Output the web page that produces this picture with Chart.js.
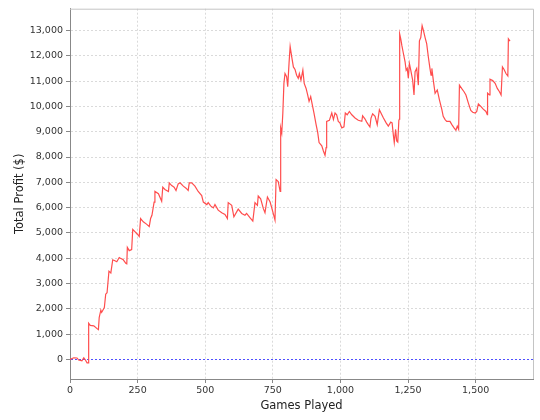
<!DOCTYPE html>
<html>
<head>
<meta charset="utf-8">
<script src="https://cdn.jsdelivr.net/npm/chart.js@4"></script>
<style>
  html, body { margin: 0; padding: 0; background: #fff; }
</style>
</head>
<body>
<canvas id="myChart" width="540" height="420"></canvas>
<script>
// games played (x) and running total profit in $ (y)
const games = [
  0, 14, 26, 32, 44, 51, 57, 63, 67, 69, 75, 88, 100, 105, 108, 114, 117, 127, 132, 137,
  144, 151, 158, 166, 173, 182, 185, 197, 207, 210, 212, 219, 228, 232, 240, 249, 256, 261, 271, 284,
  293, 298, 303, 311, 314, 327, 339, 343, 351, 364, 367, 376, 385, 392, 400, 407, 419, 429, 437, 441,
  450, 462, 474, 487, 493, 506, 511, 520, 530, 536, 548, 561, 573, 582, 585, 598, 606, 622, 635, 647,
  653, 666, 676, 684, 693, 696, 705, 715, 721, 730, 740, 750, 758, 762, 770, 777, 779, 783, 787, 791,
  795, 801, 805, 810, 814, 820, 826, 832, 838, 844, 848, 854, 861, 866, 873, 879, 884, 890, 896, 902,
  910, 916, 921, 931, 937, 943, 947, 949, 959, 968, 974, 980, 986, 992, 998, 1005, 1013, 1018, 1025, 1033,
  1042, 1054, 1066, 1079, 1082, 1091, 1097, 1103, 1109, 1113, 1119, 1128, 1136, 1144, 1153, 1159, 1169, 1177, 1186, 1191,
  1196, 1199, 1204, 1208, 1212, 1216, 1218, 1219, 1223, 1227, 1233, 1239, 1243, 1247, 1251, 1255, 1260, 1267, 1272, 1276,
  1282, 1288, 1292, 1297, 1302, 1307, 1313, 1319, 1325, 1331, 1335, 1338, 1344, 1350, 1358, 1366, 1375, 1380, 1387, 1393,
  1405, 1412, 1420, 1427, 1432, 1437, 1440, 1448, 1457, 1464, 1473, 1482, 1489, 1498, 1504, 1510, 1519, 1528, 1538, 1543,
  1544, 1551, 1553, 1563, 1572, 1580, 1588, 1594, 1599, 1605, 1612, 1619, 1621, 1627
];
const profit = [
  0, 70, 60, -20, -50, 70, -20, -130, -130, 1430, 1350, 1330, 1220, 1180, 1660, 1950, 1860, 2050, 2580, 2640,
  3490, 3420, 3940, 3900, 3860, 4030, 4010, 3940, 3790, 3780, 4430, 4300, 4340, 5140, 5050, 4950, 4860, 5570, 5440, 5340,
  5250, 5570, 5700, 6220, 6640, 6550, 6250, 6810, 6720, 6640, 6980, 6870, 6810, 6680, 6940, 6980, 6850, 6770, 6680, 6980,
  6980, 6850, 6640, 6480, 6220, 6120, 6200, 6070, 5990, 6120, 5900, 5800, 5730, 5570, 6200, 6090, 5640, 5940, 5770, 5700,
  5770, 5600, 5470, 6200, 6090, 6460, 6350, 5960, 5800, 6420, 6220, 5830, 5510, 7110, 7030, 6640, 9150, 8950, 9740, 10910,
  11300, 11170, 10780, 11720, 12370, 11950, 11560, 11460, 11230, 11110, 11300, 11040, 11430, 10910, 10710, 10450, 10200, 10390, 10060, 9740,
  9280, 8960, 8570, 8440, 8240, 8070, 8370, 9410, 9450, 9740, 9480, 9740, 9670, 9410, 9350, 9150, 9190, 9740, 9670, 9800,
  9670, 9540, 9450, 9410, 9630, 9500, 9380, 9280, 9190, 9540, 9710, 9610, 9280, 9870, 9670, 9540, 9350, 9220, 9380, 9350,
  8830, 8570, 9090, 8630, 8590, 9450, 9500, 12860, 12670, 12410, 12080, 11760, 11430, 11500, 11110, 11690, 11430, 11040, 10450, 11370,
  11500, 10840, 12590, 12720, 13190, 12990, 12720, 12470, 11950, 11500, 11230, 11500, 10980, 10520, 10650, 10260, 9870, 9610, 9480, 9410,
  9410, 9280, 9150, 9060, 9220, 9090, 10840, 10710, 10580, 10450, 10130, 9840, 9770, 9740, 9800, 10100, 10000, 9890, 9800, 9670,
  10520, 10450, 11070, 11020, 10910, 10710, 10580, 10450, 11560, 11460, 11300, 11200, 12670, 12580
];
const xTicks = [0, 250, 500, 750, 1000, 1250, 1500];
const yTicks = [0, 1000, 2000, 3000, 4000, 5000, 6000, 7000, 8000, 9000, 10000, 11000, 12000, 13000];
const xTitle = 'Games Played';
const yTitle = 'Total Profit ($)';

const fmt = v => Number(v).toLocaleString('en-US');

// light outline on the top and right edges of the plot
const plotOutline = {
  id: 'plotOutline',
  afterDraw(chart) {
    const { ctx, chartArea: a } = chart;
    ctx.save();
    ctx.strokeStyle = '#c4c4c4';
    ctx.lineWidth = 1;
    ctx.beginPath();
    ctx.moveTo(a.left, a.top + 0.5);
    ctx.lineTo(a.right + 0.5, a.top + 0.5);
    ctx.lineTo(a.right + 0.5, a.bottom);
    ctx.stroke();
    ctx.restore();
  }
};

const ctx = document.getElementById('myChart').getContext('2d');
new Chart(ctx, {
  type: 'line',
  data: {
    datasets: [{
      data: games.map((g, i) => ({ x: g, y: profit[i] })),
      borderColor: '#ff4d4d',
      borderWidth: 1.2,
      pointRadius: 0,
      tension: 0,
      fill: false
    }]
  },
  options: {
    responsive: false,
    animation: false,
    layout: { padding: { left: 0, right: 7, top: 5, bottom: 0 } },
    plugins: { legend: { display: false }, tooltip: { enabled: false } },
    scales: {
      x: {
        type: 'linear',
        min: 0,
        max: 1712,
        afterBuildTicks: s => { s.ticks = xTicks.map(v => ({ value: v })); },
        afterFit: s => { s.height = 41; },
        ticks: {
          maxRotation: 0,
          autoSkip: false,
          padding: 2,
          color: '#333',
          font: { family: 'DejaVu Sans', size: 9.5 },
          callback: fmt
        },
        grid: { color: '#dadada', tickColor: '#888', tickLength: 4, tickBorderDash: [] },
        border: { color: '#888', dash: [2, 2] },
        title: {
          display: true,
          text: xTitle,
          color: '#222',
          font: { family: 'DejaVu Sans', size: 11.5 },
          padding: { top: 0, bottom: 7 }
        }
      },
      y: {
        type: 'linear',
        min: -770,
        max: 13860,
        afterBuildTicks: s => { s.ticks = yTicks.map(v => ({ value: v })); },
        afterFit: s => { s.width = 70; },
        ticks: {
          autoSkip: false,
          padding: 3,
          color: '#333',
          font: { family: 'DejaVu Sans', size: 9.5 },
          callback: fmt
        },
        grid: {
          color: c => (c.tick && c.tick.value === 0) ? '#4f4fff' : '#dadada',
          tickColor: '#888',
          tickLength: 4,
          tickBorderDash: []
        },
        border: { color: '#888', dash: [2, 2] },
        title: {
          display: true,
          text: yTitle,
          color: '#222',
          font: { family: 'DejaVu Sans', size: 11.5 },
          padding: { top: 13, bottom: 0 }
        }
      }
    }
  },
  plugins: [plotOutline]
});
</script>
</body>
</html>
